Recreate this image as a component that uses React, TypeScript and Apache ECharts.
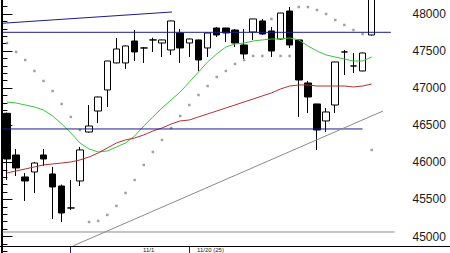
import React, { useEffect, useRef } from "react";
import * as echarts from "echarts";

// Trading sessions on the x axis (41 sessions plus two empty slots on the right)
const categories: string[] = Array.from({ length: 43 }, (_, i) => `D${i + 1}`);

// Daily candles: [open, close, low, high]
const candles: number[][] = [
  [46661, 46045, 45762, 46670],
  [46099, 45924, 45816, 46180],
  [45803, 45749, 45479, 45857],
  [45870, 45991, 45587, 46005],
  [46099, 46045, 45951, 46180],
  [45843, 45668, 45237, 45938],
  [45681, 45317, 45196, 45700],
  [45385, 45385, 45358, 45762],
  [45749, 46167, 45681, 46207],
  [46409, 46490, 46400, 46773],
  [46692, 46881, 46531, 46885],
  [46976, 47366, 46746, 47370],
  [47340, 47528, 47335, 47676],
  [47340, 47569, 47259, 47575],
  [47636, 47488, 47366, 47784],
  [47542, 47542, 47340, 47555],
  [47650, 47650, 47488, 47680],
  [47609, 47650, 47420, 47655],
  [47515, 47906, 47447, 47910],
  [47744, 47542, 47340, 47798],
  [47609, 47663, 47420, 47667],
  [47650, 47380, 47232, 47655],
  [47542, 47744, 47420, 47750],
  [47811, 47717, 47690, 47825],
  [47811, 47744, 47623, 47815],
  [47784, 47609, 47555, 47798],
  [47582, 47461, 47393, 47798],
  [47757, 47933, 47650, 47935],
  [47906, 47730, 47717, 47933],
  [47771, 47501, 47420, 47825],
  [47663, 48013, 47650, 48015],
  [48040, 47582, 47542, 48094],
  [47650, 47110, 46612, 47655],
  [47070, 46881, 46665, 47097],
  [46787, 46436, 46167, 46790],
  [46558, 46679, 46409, 46733],
  [46773, 47353, 46665, 47357],
  [47488, 47488, 47178, 47515],
  [47299, 47299, 47205, 47474],
  [47232, 47474, 47228, 47478],
  [47717, 48400, 47710, 48400],
];

// Short moving average (green)
const maShort: (number | null)[] = [
  46814, 46800, 46773, 46746, 46706, 46625, 46517, 46396, 46261, 46180,
  46140, 46153, 46207, 46261, 46355, 46490, 46612, 46733, 46841, 46949,
  47083, 47218, 47353, 47461, 47555, 47596, 47609, 47636, 47650, 47663,
  47663, 47677, 47650, 47569, 47501, 47447, 47420, 47393, 47366, 47366,
  47420, null, null,
];

// Long moving average (red)
const maLong: (number | null)[] = [
  45857, 45884, 45911, 45938, 45965, 45978, 45991, 46005, 46032, 46072,
  46126, 46193, 46261, 46302, 46328, 46369, 46423, 46463, 46517, 46558,
  46571, 46612, 46652, 46692, 46733, 46773, 46814, 46854, 46895, 46935,
  46989, 47029, 47043, 47043, 47029, 47029, 47029, 47029, 47016, 47029,
  47056, null, null,
];

// Parabolic SAR
const sar: (number | null)[] = [
  47609, 47488, 47380, 47232, 47097, 46962, 46787, 46612, 46436, 45196,
  45210, 45291, 45412, 45587, 45762, 45965, 46140, 46302, 46463, 46625,
  46773, 46908, 47029, 47151, 47232, 47326, 47380, 47434, 47434, 47933,
  47434, 47434, 48094, 48094, 48054, 48000, 47919, 47852, 47784, 47730,
  46167, null, null,
];

// Drawn lines, x in session units from the left edge of the first session
const upperTrend: number[][] = [[0, 47875], [18.6, 48027]];
const resistance: number[][] = [[0, 47753], [42.6, 47753]];
const support: number[][] = [[0, 46450], [39.5, 46450]];
const risingTrend: number[][] = [[7.74, 44873], [41.74, 46692]];
const floorLine: number[][] = [[0, 45061], [43, 45061]];

// Date captions under the time axis
const dateCaptions: string[] = ["11/1", "11/20 (25)"];

// Price scale: labelled range and step
const Y_MIN = 44500;
const Y_MAX = 48500;
const Y_STEP = 500;
const LABEL_LOW = 45000;
const LABEL_HIGH = 48000;

const FONT = "'Liberation Sans', Arial, sans-serif";
const NAVY = "#1c1c8a";
const GREY = "#8a8a8a";

function straight(data: number[][], color: string) {
  return {
    type: "line",
    xAxisIndex: 1,
    yAxisIndex: 0,
    data,
    symbol: "none",
    silent: true,
    lineStyle: { color, width: 1 },
    z: 4,
  };
}

export default function App() {
  const ref = useRef<HTMLDivElement>(null);

  useEffect(() => {
    if (!ref.current) return;
    const chart = echarts.init(ref.current, null, { renderer: "svg" });
    chart.setOption({
      animation: false,
      backgroundColor: "#ffffff",
      textStyle: { fontFamily: FONT },
      grid: {
        left: 2.45,
        right: 55.5,
        top: -23.1,
        bottom: -20.6,
        containLabel: false,
        outerBoundsMode: "none",
      },
      xAxis: [
        { type: "category", data: categories, boundaryGap: true, show: false },
        { type: "value", min: 0, max: categories.length, show: false, position: "top" },
      ],
      yAxis: [
        {
          type: "value",
          position: "right",
          offset: 1,
          min: Y_MIN,
          max: Y_MAX,
          interval: Y_STEP,
          axisLine: { show: true, lineStyle: { color: "#000", width: 1 } },
          axisTick: { show: true, length: 10, lineStyle: { color: "#000", width: 1 } },
          minorTick: { show: true, splitNumber: 5, length: 5, lineStyle: { color: "#000", width: 1 } },
          splitLine: { show: false },
          axisLabel: {
            margin: 17,
            color: "#1a1a1a",
            fontSize: 12,
            fontFamily: FONT,
            showMinLabel: false,
            showMaxLabel: false,
            formatter: (v: number) => (v >= LABEL_LOW && v <= LABEL_HIGH ? String(v) : ""),
          },
        },
      ],
      series: [
        {
          type: "candlestick",
          data: candles,
          barWidth: 7,
          z: 2,
          itemStyle: {
            color: "#ffffff",
            color0: "#000000",
            borderColor: "#000000",
            borderColor0: "#000000",
            borderWidth: 1,
          },
        },
        {
          type: "line",
          data: maShort,
          symbol: "none",
          lineStyle: { color: "#3cc43c", width: 1 },
          z: 3,
        },
        {
          type: "line",
          data: maLong,
          symbol: "none",
          lineStyle: { color: "#b83030", width: 1 },
          z: 3,
        },
        {
          type: "scatter",
          data: sar,
          symbol: "rect",
          symbolSize: 2.5,
          itemStyle: { color: "#8a8a8a" },
          z: 3,
        },
        straight(upperTrend, NAVY),
        straight(resistance, NAVY),
        straight(support, NAVY),
        straight(risingTrend, GREY),
        straight(floorLine, GREY),
      ],
      graphic: [
        { type: "line", shape: { x1: 1.5, y1: 0, x2: 1.5, y2: 253 }, style: { stroke: "#000", lineWidth: 1 }, z: 10 },
        { type: "line", shape: { x1: 0, y1: 246.5, x2: 450, y2: 246.5 }, style: { stroke: "#000", lineWidth: 1 }, z: 10 },
        { type: "line", shape: { x1: 70.5, y1: 247, x2: 70.5, y2: 253 }, style: { stroke: NAVY, lineWidth: 1 }, z: 10 },
        { type: "line", shape: { x1: 189.5, y1: 247, x2: 189.5, y2: 253 }, style: { stroke: NAVY, lineWidth: 1 }, z: 10 },
        {
          type: "text",
          x: 143,
          y: 253,
          style: { text: dateCaptions[0], fill: "#1a1a1a", font: `6px ${FONT}`, textVerticalAlign: "bottom" },
          z: 10,
        },
        {
          type: "text",
          x: 197,
          y: 253,
          style: { text: dateCaptions[1], fill: "#1a1a1a", font: `6px ${FONT}`, textVerticalAlign: "bottom" },
          z: 10,
        },
      ],
    });
    return () => chart.dispose();
  }, []);

  return (
    <div
      ref={ref}
      style={{ position: "fixed", left: 0, top: 0, width: 450, height: 253, background: "#fff" }}
    />
  );
}
